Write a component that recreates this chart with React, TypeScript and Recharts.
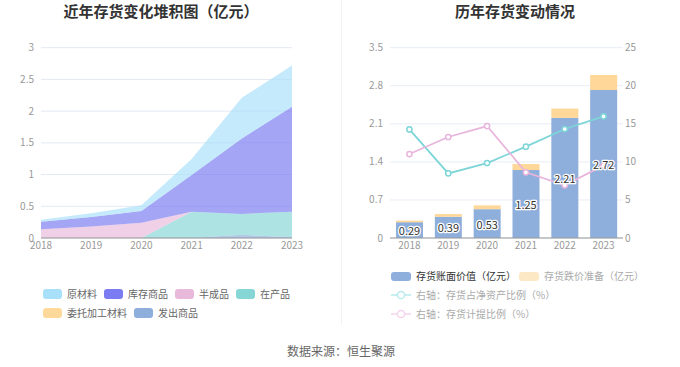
import React from 'react';
import { AreaChart, Area, XAxis, YAxis, CartesianGrid, ComposedChart, Bar, Line, LabelList } from 'recharts';

const years = ['2018', '2019', '2020', '2021', '2022', '2023'];

// left chart (亿元), stacked bottom -> top
const faChuShangPin = [0, 0, 0, 0, 0.05, 0.01];
const weiTuoJiaGong = [0, 0, 0, 0, 0, 0];
const zaiChanPin = [0, 0, 0, 0.415, 0.33, 0.405];
const banChengPin = [0.137, 0.18, 0.24, 0, 0, 0];
const kuCunShangPin = [0.12, 0.15, 0.185, 0.58, 1.19, 1.655];
const yuanCaiLiao = [0.03, 0.06, 0.09, 0.25, 0.64, 0.65];

const leftTicks = [0, 0.5, 1, 1.5, 2, 2.5, 3];

// right chart
const bookValue = [0.29, 0.39, 0.53, 1.25, 2.21, 2.72];
const reserve = [0.03, 0.05, 0.07, 0.11, 0.17, 0.28];
const ratioNetAsset = [14.27, 8.49, 9.85, 12.0, 14.32, 15.98];
const ratioProvision = [11.03, 13.27, 14.71, 8.63, 6.92, 9.54];

const rightLeftTicks = [0, 0.7, 1.4, 2.1, 2.8, 3.5];
const rightRightTicks = [0, 5, 10, 15, 20, 25];

const FONT = '"Noto Sans CJK SC", "Noto Sans", sans-serif';

const leftSeries = [
  { key: 'fc', name: '发出商品', values: faChuShangPin, color: '#8eaedc' },
  { key: 'wt', name: '委托加工材料', values: weiTuoJiaGong, color: '#ffd99a' },
  { key: 'zc', name: '在产品', values: zaiChanPin, color: '#86d6d6' },
  { key: 'bc', name: '半成品', values: banChengPin, color: '#e8b9da' },
  { key: 'kc', name: '库存商品', values: kuCunShangPin, color: '#7b7bf2' },
  { key: 'yc', name: '原材料', values: yuanCaiLiao, color: '#a8e0f9' },
];

const leftLegendOrder = [['yc', 'kc', 'bc', 'zc'], ['wt', 'fc']];

const leftData = years.map((y, i) => {
  const row: any = { year: y };
  leftSeries.forEach((s) => (row[s.key] = s.values[i]));
  return row;
});

const rightData = years.map((y, i) => ({
  year: y,
  book: bookValue[i],
  reserve: reserve[i],
  net: ratioNetAsset[i],
  prov: ratioProvision[i],
}));

const tickStyle = { fontSize: 10, fill: '#999', fontFamily: FONT };

const BarLabel = (props: any) => {
  const { x, y, width, height, value } = props;
  return (
    <text
      x={x + width / 2}
      y={y + height / 2}
      textAnchor="middle"
      dominantBaseline="central"
      fontSize={11}
      fontFamily={FONT}
      fill="#333"
      stroke="#fff"
      strokeWidth={2.5}
      strokeLinejoin="round"
      paintOrder="stroke"
    >
      {Number(value).toFixed(2)}
    </text>
  );
};

const makeDot = (color: string) => (props: any) => {
  const { cx, cy, index } = props;
  return <circle key={index} cx={cx} cy={cy} r={2.6} fill="#fff" stroke={color} strokeWidth={1.5} />;
};

const Swatch = ({ color, w = 19, h = 10 }: { color: string; w?: number; h?: number }) => (
  <span style={{ display: 'inline-block', width: w, height: h, background: color, borderRadius: 3, marginRight: 5 }} />
);

const LineIcon = ({ color }: { color: string }) => (
  <svg width={20} height={10} style={{ marginRight: 5 }}>
    <line x1={0} y1={5} x2={20} y2={5} stroke={color} strokeWidth={1.5} />
    <circle cx={10} cy={5} r={3.6} fill="#fff" stroke={color} strokeWidth={1.5} />
  </svg>
);

export default function App() {
  const byKey: any = {};
  leftSeries.forEach((s) => (byKey[s.key] = s));
  return (
    <div style={{ position: 'absolute', left: 0, top: 0, width: 680, height: 367, background: '#fff', fontFamily: FONT, overflow: 'hidden' }}>
      {/* titles */}
      <div style={{ position: 'absolute', left: 0, width: 322, top: 3, textAlign: 'center', fontSize: 15, lineHeight: '15px', fontWeight: 'bold', color: '#333' }}>
        近年存货变化堆积图（亿元）
      </div>
      <div style={{ position: 'absolute', left: 340, width: 350, top: 3, textAlign: 'center', fontSize: 15, lineHeight: '15px', fontWeight: 'bold', color: '#333' }}>
        历年存货变动情况
      </div>
      {/* divider */}
      <div style={{ position: 'absolute', left: 341, top: 0, width: 1, height: 325, background: '#f2f2f2' }} />

      <div style={{ position: 'absolute', left: 0, top: 0 }}>
        <AreaChart width={340} height={260} data={leftData} margin={{ top: 47.7, right: 48, left: 0, bottom: 0 }}>
          <CartesianGrid vertical={false} stroke="#e3e8f4" />
          <XAxis dataKey="year" height={22} tick={tickStyle} tickLine={false} tickSize={0} tickMargin={4} axisLine={{ stroke: '#999' }} interval={0} />
          <YAxis width={41} domain={[0, 3]} ticks={leftTicks} tick={tickStyle} tickLine={false} axisLine={false} tickSize={0} tickMargin={7} />
          {leftSeries.map((s) => (
            <Area
              key={s.key}
              dataKey={s.key}
              name={s.name}
              type="linear"
              stackId="1"
              stroke="none"
              fill={s.color}
              fillOpacity={0.68}
              dot={false}
              activeDot={false}
              isAnimationActive={false}
            />
          ))}
        </AreaChart>
      </div>

      <div style={{ position: 'absolute', left: 340, top: 0 }}>
        <ComposedChart width={340} height={260} data={rightData} margin={{ top: 47.7, right: 0, left: 0, bottom: 0 }}>
          <CartesianGrid vertical={false} stroke="#e8edf6" yAxisId="left" />
          <XAxis dataKey="year" height={22} tick={tickStyle} tickLine={false} tickSize={0} tickMargin={4} axisLine={{ stroke: '#999' }} interval={0} />
          <YAxis yAxisId="left" orientation="left" width={50} domain={[0, 3.5]} ticks={rightLeftTicks} tick={tickStyle} tickLine={false} axisLine={false} tickSize={0} tickMargin={7} />
          <YAxis yAxisId="right" orientation="right" width={57} domain={[0, 25]} ticks={rightRightTicks} tick={tickStyle} tickLine={false} axisLine={false} tickSize={0} tickMargin={2} />
          <Bar yAxisId="left" dataKey="book" stackId="b" fill="#8eaedc" barSize={27} isAnimationActive={false}>
            <LabelList dataKey="book" content={BarLabel} />
          </Bar>
          <Bar yAxisId="left" dataKey="reserve" stackId="b" fill="#ffd799" barSize={27} isAnimationActive={false} />
          <Line yAxisId="right" dataKey="net" type="linear" stroke="#7dd5d8" strokeWidth={1.8} dot={makeDot('#7dd5d8')} activeDot={false} isAnimationActive={false} />
          <Line yAxisId="right" dataKey="prov" type="linear" stroke="#e8b5dc" strokeWidth={1.8} dot={makeDot('#e8b5dc')} activeDot={false} isAnimationActive={false} />
        </ComposedChart>
      </div>

      {/* left legend */}
      <div style={{ position: 'absolute', left: 43, top: 289, fontSize: 10, lineHeight: '10px', color: '#666' }}>
        {leftLegendOrder.map((row, ri) => (
          <div key={ri} style={{ display: 'flex', alignItems: 'center', height: 10, marginBottom: ri === 0 ? 8.7 : 0 }}>
            {row.map((k) => (
              <span key={k} style={{ display: 'flex', alignItems: 'center', marginRight: 7, whiteSpace: 'nowrap' }}>
                <Swatch color={byKey[k].color} />
                {byKey[k].name}
              </span>
            ))}
          </div>
        ))}
      </div>

      {/* right legend */}
      <div style={{ position: 'absolute', left: 391, top: 271, fontSize: 10, lineHeight: '10px', color: '#aaa' }}>
        <div style={{ display: 'flex', alignItems: 'center', height: 10, marginBottom: 8.6, whiteSpace: 'nowrap' }}>
          <Swatch color="#8eaedc" w={20} h={9} />
          <span style={{ color: '#333', marginRight: 3 }}>存货账面价值（亿元）</span>
          <Swatch color="#fde8c6" w={20} h={9} />
          <span>存货跌价准备（亿元）</span>
        </div>
        <div style={{ display: 'flex', alignItems: 'center', height: 10, marginBottom: 9, whiteSpace: 'nowrap' }}>
          <LineIcon color="#b7ebec" />
          <span>右轴：存货占净资产比例（%）</span>
        </div>
        <div style={{ display: 'flex', alignItems: 'center', height: 10, whiteSpace: 'nowrap' }}>
          <LineIcon color="#f4d4ec" />
          <span>右轴：存货计提比例（%）</span>
        </div>
      </div>

      {/* footer */}
      <div style={{ position: 'absolute', left: 0, width: 682, top: 345, textAlign: 'center', fontSize: 12, lineHeight: '12px', color: '#666' }}>
        数据来源：恒生聚源
      </div>
    </div>
  );
}
